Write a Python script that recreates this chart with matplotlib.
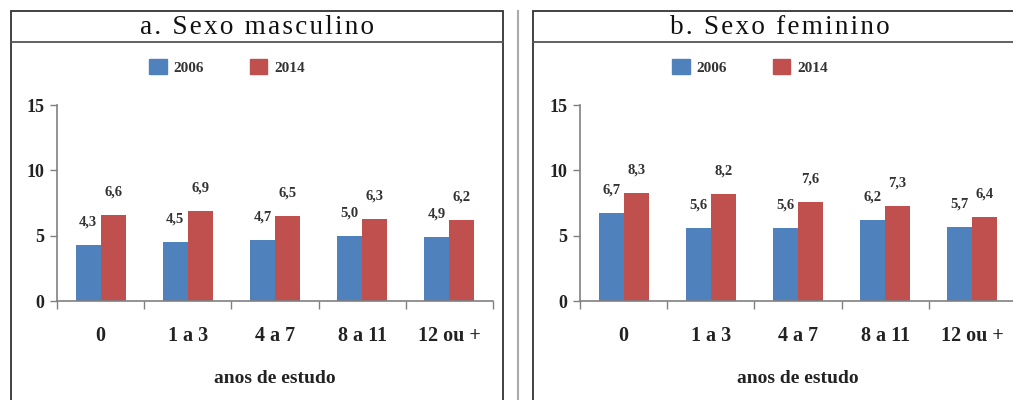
import matplotlib
matplotlib.use("Agg")
import matplotlib.pyplot as plt
from matplotlib.lines import Line2D
from matplotlib.patches import Rectangle, Patch
import numpy as np

plt.rcParams['font.family'] = ['Liberation Serif', 'DejaVu Serif']

categorias = ['0', '1 a 3', '4 a 7', '8 a 11', '12 ou +']
anos = ['2006', '2014']
masc_2006 = [4.3, 4.5, 4.7, 5.0, 4.9]
masc_2014 = [6.6, 6.9, 6.5, 6.3, 6.2]
fem_2006 = [6.7, 5.6, 5.6, 6.2, 5.7]
fem_2014 = [8.3, 8.2, 7.6, 7.3, 6.4]
titulos = ['a. Sexo masculino', 'b. Sexo feminino']
yticks = [0, 5, 10, 15]
xlabel = 'anos de estudo'

cores = ['#4F81BD', '#C0504D']
W, H = 1013, 400
fig = plt.figure(figsize=(W / 100, H / 100), dpi=100)

def fx(px):
    return px / W

def fy(py):
    return 1 - py / H

def fmt(v):
    return ('%.1f' % v).replace('.', ',')

# moldura dos paineis (pixels)
paineis = [(11, 503, 257), (533, 1030, 780)]
for (x0, x1, xc), titulo in zip(paineis, titulos):
    fig.add_artist(Rectangle((fx(x0), fy(410)), fx(x1 - x0), fy(11) - fy(410),
                             transform=fig.transFigure, fill=False,
                             edgecolor='#333333', linewidth=1.3))
    fig.add_artist(Line2D([fx(x0), fx(x1)], [fy(42), fy(42)],
                          transform=fig.transFigure, color='#555555', linewidth=1.3))
    espacado = '\u200a'.join(titulo)  # espaçamento entre letras
    fig.text(fx(xc), fy(27), espacado, ha='center', va='center', fontsize=19.5,
             color='#111111')

fig.add_artist(Line2D([fx(518), fx(518)], [fy(11), fy(400)],
                      transform=fig.transFigure, color='#aaaaaa', linewidth=1.5))

dados = [(masc_2006, masc_2014), (fem_2006, fem_2014)]
eixos_x = [57, 580]
x = np.arange(len(categorias))
larg = 0.286

for x0, (s1, s2) in zip(eixos_x, dados):
    ax = fig.add_axes([fx(x0), fy(301), fx(436), fy(105) - fy(301)])
    b1 = ax.bar(x - larg / 2, s1, larg, color=cores[0])
    b2 = ax.bar(x + larg / 2, s2, larg, color=cores[1])
    for barras, serie in ((b1, s1), (b2, s2)):
        for b, v in zip(barras, serie):
            ax.annotate(fmt(v), (b.get_x() + b.get_width() / 2, v),
                        xytext=(0, 23), textcoords='offset pixels',
                        ha='center', va='center', fontsize=10.5,
                        fontweight='bold', color='#333333')
    ax.set_xlim(-0.5, len(categorias) - 0.5)
    ax.set_ylim(0, 15)
    ax.set_yticks(yticks)
    ax.set_xticks(x)
    ax.set_xticklabels(categorias, fontsize=14.5, fontweight='bold')
    ax.set_yticklabels([str(t) for t in yticks], fontsize=13, fontweight='bold')
    ax.set_xticks(np.arange(len(categorias) + 1) - 0.5, minor=True)
    ax.tick_params(axis='x', which='major', length=0, pad=18, labelcolor='#222222')
    ax.tick_params(axis='x', which='minor', length=6, color='#808080', width=1)
    ax.tick_params(axis='y', length=5, color='#808080', width=1, pad=4,
                   labelcolor='#222222')
    for s in ('top', 'right'):
        ax.spines[s].set_visible(False)
    for s in ('left', 'bottom'):
        ax.spines[s].set_color('#808080')
        ax.spines[s].set_linewidth(1.2)
    ax.set_xlabel(xlabel, fontsize=14, fontweight='bold', labelpad=17, color='#222222')
    handles = [Patch(color=c, label=a) for c, a in zip(cores, anos)]
    leg = ax.legend(handles=handles, loc='center', bbox_to_anchor=(0.39, 1.194), ncol=2,
                    frameon=False, prop={'size': 11, 'weight': 'bold'},
                    handlelength=1.15, handleheight=1.15,
                    handletextpad=0.45, columnspacing=3.0)
    for t in leg.get_texts():
        t.set_color('#333333')

fig.savefig('out.png', dpi=100)
